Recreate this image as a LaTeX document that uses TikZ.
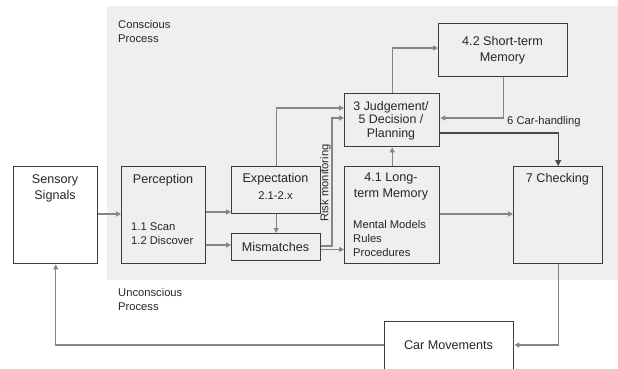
\documentclass[tikz,border=0pt]{standalone}
\usepackage{fontspec}
\setmainfont{Liberation Sans}
\usetikzlibrary{arrows.meta}
\definecolor{bgc}{HTML}{EFEFEF}
\definecolor{boxc}{HTML}{3C3C3C}
\definecolor{linec}{HTML}{858585}
\definecolor{darkc}{HTML}{4A4A4A}
\begin{document}
\begin{tikzpicture}[x=1pt,y=-1pt,
 box/.style={draw=boxc, line width=1.4pt, anchor=north west, inner sep=0pt},
 arr/.style={draw=linec, line width=1.4pt, -{Triangle[length=5pt,width=5pt]}},
 darr/.style={draw=darkc, line width=1.4pt, -{Triangle[length=6pt,width=6pt]}},
 big/.style={font=\fontsize{12.6}{16}\selectfont, align=center, inner sep=0pt, text=black!85},
 jud/.style={font=\fontsize{12.4}{13.5}\selectfont, align=center, inner sep=0pt, text=black!85},
 sm/.style={font=\fontsize{11.2}{14}\selectfont, align=left, inner sep=0pt, text=black!85}]
\clip (0,0) rectangle (618,368);
\fill[bgc] (107,6) rectangle (618,280);
% boxes
\node[box, fill=white, minimum width=84pt, minimum height=97pt] (sens) at (13,166) {};
\node[box, minimum width=84pt, minimum height=97pt] (perc) at (121,166) {};
\node[box, minimum width=89pt, minimum height=47pt] (expe) at (231,166) {};
\node[box, minimum width=89pt, minimum height=27pt] (mism) at (231,233) {};
\node[box, minimum width=95pt, minimum height=53pt] (judg) at (344,93) {};
\node[box, minimum width=129pt, minimum height=53pt] (stm) at (438,23) {};
\node[box, minimum width=95pt, minimum height=97pt] (ltm) at (344,166) {};
\node[box, minimum width=89pt, minimum height=97pt] (chk) at (513,166) {};
\node[box, fill=white, minimum width=129pt, minimum height=70pt] (car) at (384,321) {};
% texts
\node[sm, anchor=west] (tcon) at (118,31) {Conscious\\Process};
\node[sm, anchor=west] (tuncon) at (118,299) {Unconscious\\Process};
\node[big] (tsens) at (55,188.5) {Sensory\\Signals};
\node[big] (tperc) at (163,180.5) {Perception};
\node[sm, anchor=west] (tperc2) at (131,234) {1.1 Scan\\1.2 Discover};
\node[big] (texp) at (275.5,179.5) {Expectation};
\node[sm] (texp2) at (275.5,195.5) {2.1-2.x};
\node[big] (tmism) at (275.5,246.5) {Mismatches};
\node[jud] (tjudg) at (391,120.5) {3 Judgement/\\5 Decision /\\Planning};
\node[big] (tstm) at (502.5,50) {4.2 Short-term\\Memory};
\node[big] (tltm) at (391,186.5) {4.1 Long-\\term Memory};
\node[sm, anchor=west] (tltm2) at (353,238) {Mental Models\\Rules\\Procedures};
\node[big] (tchk) at (557.5,179.5) {7 Checking};
\node[big] (tcar) at (448.5,345) {Car Movements};
\node[sm, anchor=west] (tcarh) at (507,122) {6 Car-handling};
\node[sm, rotate=90] (trisk) at (325.5,183) {Risk monitoring};
% connectors
\draw[arr] (sens.east |- 0,214) -- (perc.west |- 0,214);
\draw[arr] (perc.east |- 0,212) -- (expe.west |- 0,212);
\draw[arr] (perc.east |- 0,245) -- (mism.west |- 0,245);
\draw[arr] (expe.south) -- (mism.north);
\draw[arr] (expe.north) |- (judg.west |- 0,108);
\draw[arr] (mism.east |- 0,246) -| (332,118) -- (judg.west |- 0,118);
\draw[arr] (mism.east |- 0,249.5) -- (ltm.west |- 0,249.5);
\draw[arr] (ltm.north) -- (judg.south);
\draw[arr] (judg.north) |- (stm.west |- 0,48);
\draw[arr] (stm.south) |- (judg.east |- 0,118);
\draw[darr] (judg.east |- 0,133) -| (chk.north);
\draw[arr] (ltm.east |- 0,214) -- (chk.west |- 0,214);
\draw[arr] (chk.south) |- (car.east |- 0,345);
\draw[arr] (car.west |- 0,345) -| (sens.south);
\end{tikzpicture}
\end{document}
